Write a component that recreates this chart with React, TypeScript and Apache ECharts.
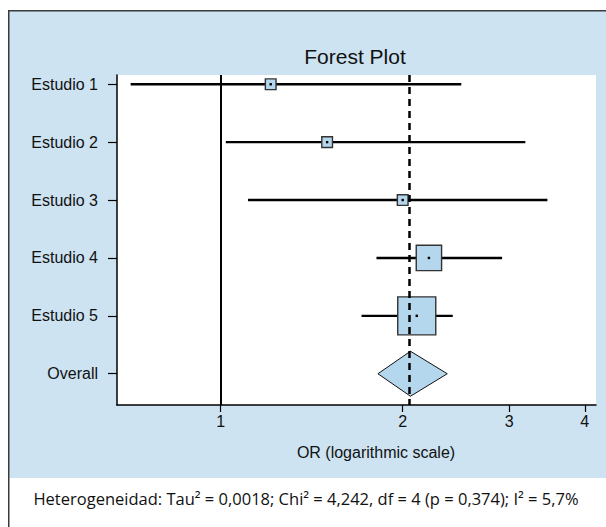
import React, { useEffect, useRef } from "react";
import * as echarts from "echarts";

const rowLabels = ["Estudio 1", "Estudio 2", "Estudio 3", "Estudio 4", "Estudio 5", "Overall"];
const studyOR = [1.21, 1.5, 2.0, 2.21, 2.11];
const studyLower = [0.71, 1.02, 1.11, 1.81, 1.71];
const studyUpper = [2.5, 3.19, 3.47, 2.92, 2.42];
const studyWeight = [4.7, 4.7, 4.7, 26.4, 59.5];
const overallOR = 2.06;
const overallLower = 1.82;
const overallUpper = 2.37;
const xTickValues = [1, 2, 3, 4];
const xRange = [0.674, 4.175];
const title = "Forest Plot";
const xAxisName = "OR (logarithmic scale)";
const heterogeneityText =
  "Heterogeneidad: Tau\u00B2 = 0,0018; Chi\u00B2 = 4,242, df = 4 (p = 0,374); I\u00B2 = 5,7%";

const FONT = "'Liberation Sans', Arial, sans-serif";
const FILL = "#b4d7ee";
const BG = "#cde3f2";

export default function App() {
  const ref = useRef<HTMLDivElement>(null);
  useEffect(() => {
    document.body.style.margin = "0";
    const chart = echarts.init(ref.current!, null, { renderer: "svg" });
    const ln = Math.log;
    const studyData = studyOR.map((v, i) => [ln(v), i + 1, ln(studyLower[i]), ln(studyUpper[i]), studyWeight[i]]);
    const option: any = {
      animation: false,
      grid: { left: 117, right: 10, top: 75, bottom: 122, show: true, backgroundColor: "#fff", borderWidth: 0 },
      xAxis: {
        type: "value",
        min: ln(xRange[0]),
        max: ln(xRange[1]),
        axisLine: { show: true, onZero: false, lineStyle: { color: "#000", width: 1.5 } },
        axisTick: { show: true, length: 7, customValues: xTickValues.map((v) => ln(v)), lineStyle: { color: "#000", width: 1.2 } },
        axisLabel: {
          customValues: xTickValues.map((v) => ln(v)),
          formatter: (v: number) => String(Math.round(Math.exp(v))),
          fontFamily: FONT,
          fontSize: 16,
          color: "#111",
          margin: 8,
        },
        splitLine: { show: false },
      },
      yAxis: {
        type: "value",
        inverse: true,
        min: 0.84,
        max: 6.54,
        axisLine: { show: true, onZero: false, lineStyle: { color: "#000", width: 1.5 } },
        axisTick: { show: true, length: 9, customValues: [1, 2, 3, 4, 5, 6], lineStyle: { color: "#000", width: 1.2 } },
        axisLabel: {
          customValues: [1, 2, 3, 4, 5, 6],
          formatter: (v: number) => rowLabels[Math.round(v) - 1] ?? "",
          fontFamily: FONT,
          fontSize: 16,
          color: "#111",
          margin: 19,
        },
        splitLine: { show: false },
      },
      graphic: [
        { type: "rect", z: -100, silent: true, shape: { x: 9, y: 11, width: 600, height: 467 }, style: { fill: BG } },
        {
          type: "rect",
          z: 100,
          silent: true,
          shape: { x: 8.75, y: 10.75, width: 700, height: 700 },
          style: { fill: "none", stroke: "#3a3a3a", lineWidth: 1.5 },
        },
        {
          type: "text",
          z: 100,
          x: 355,
          y: 56,
          style: { text: title, font: `21px ${FONT}`, fill: "#111", align: "center", verticalAlign: "middle" },
        },
        {
          type: "text",
          z: 100,
          x: 376,
          y: 452,
          style: { text: xAxisName, font: `16px ${FONT}`, fill: "#111", align: "center", verticalAlign: "middle" },
        },
        {
          type: "text",
          z: 100,
          x: 306,
          y: 498,
          style: { text: heterogeneityText, font: "16.5px 'Open Sans', 'Noto Sans', sans-serif", fill: "#111", align: "center", verticalAlign: "middle" },
        },
      ],
      series: [
        {
          type: "custom",
          name: "Overall",
          z: 2,
          data: [[ln(overallOR), 6, ln(overallLower), ln(overallUpper)]],
          renderItem: (params: any, api: any) => {
            const c = api.coord([api.value(0), api.value(1)]);
            const l = api.coord([api.value(2), api.value(1)]);
            const r = api.coord([api.value(3), api.value(1)]);
            const h = 22.5;
            return {
              type: "polygon",
              shape: { points: [[l[0], c[1]], [c[0], c[1] - h], [r[0], c[1]], [c[0], c[1] + h]] },
              style: { fill: FILL, stroke: "#111", lineWidth: 1 },
            };
          },
        },
        {
          type: "line",
          z: 3,
          data: [],
          markLine: {
            silent: true,
            symbol: "none",
            label: { show: false },
            data: [
              { xAxis: ln(1), lineStyle: { color: "#000", width: 2, type: "solid" } },
              { xAxis: ln(overallOR), lineStyle: { color: "#000", width: 2.5, type: [7, 5] } },
            ],
          },
        },
        {
          type: "custom",
          name: "Estudios",
          z: 4,
          data: studyData,
          renderItem: (params: any, api: any) => {
            const c = api.coord([api.value(0), api.value(1)]);
            const l = api.coord([api.value(2), api.value(1)]);
            const r = api.coord([api.value(3), api.value(1)]);
            const s = 4.93 * Math.sqrt(api.value(4));
            return {
              type: "group",
              children: [
                { type: "line", shape: { x1: l[0], y1: c[1], x2: r[0], y2: c[1] }, style: { stroke: "#000", lineWidth: 2.4 } },
                {
                  type: "rect",
                  shape: { x: c[0] - s / 2, y: c[1] - s / 2, width: s, height: s },
                  style: { fill: FILL, stroke: "#333", lineWidth: 1.4 },
                },
                { type: "rect", shape: { x: c[0] - 1.2, y: c[1] - 1.2, width: 2.4, height: 2.4 }, style: { fill: "#000" } },
              ],
            };
          },
        },
      ],
    };
    chart.setOption(option);
    return () => chart.dispose();
  }, []);
  return <div ref={ref} style={{ width: 606, height: 527 }} />;
}
